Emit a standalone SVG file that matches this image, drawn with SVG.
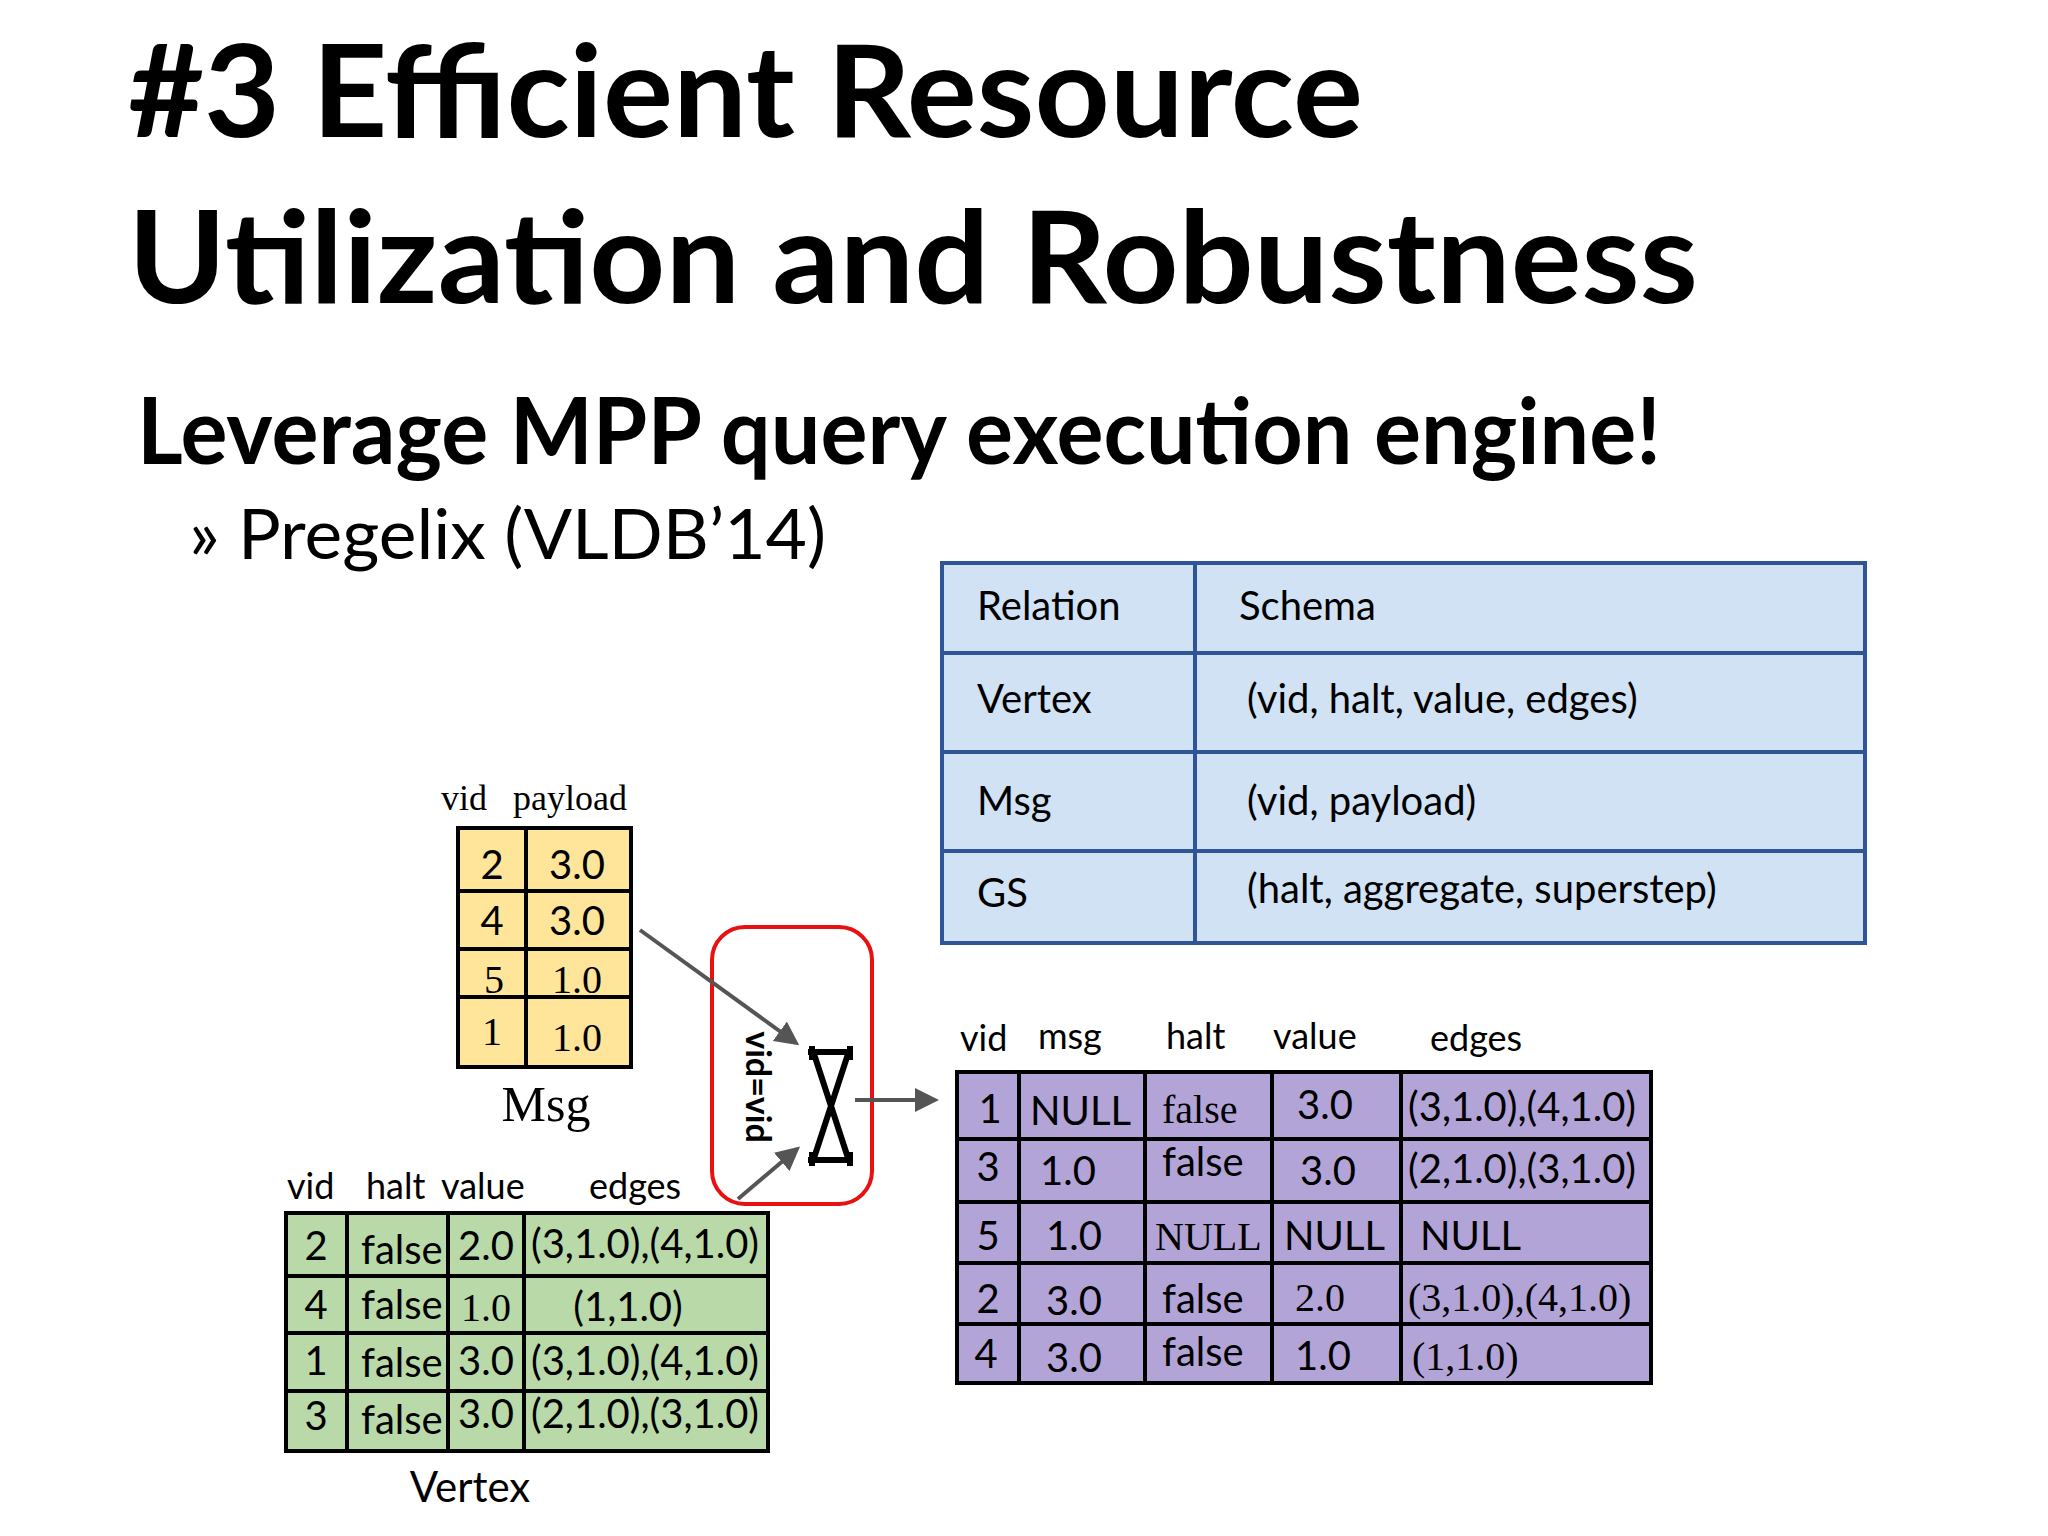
<svg xmlns="http://www.w3.org/2000/svg" width="2048" height="1536" viewBox="0 0 2048 1536">
<style>
.s{font-family:Lato,"Open Sans",sans-serif;fill:#000}
.r{font-family:"Liberation Serif",serif;fill:#000}
.t{font-size:40px}
.c{text-anchor:middle}
.g{stroke:#000;stroke-width:4}
.b{stroke:#2f5597;stroke-width:4}
.a{stroke:#555;stroke-width:4;fill:none;marker-end:url(#ah)}
</style>
<defs><marker id="ah" markerWidth="6" markerHeight="6" refX="5" refY="3" orient="auto"><path d="M0,0L6,3L0,6z" fill="#555"/></marker></defs>
<rect width="2048" height="1536" fill="#fff"/>
<g id="title">
<text class="s" x="128" y="137" font-size="128" font-weight="bold" textLength="1235" lengthAdjust="spacingAndGlyphs">#3 Efficient Resource</text>
<text class="s" x="128" y="303" font-size="128" font-weight="bold" textLength="1570" lengthAdjust="spacingAndGlyphs">Utilization and Robustness</text>
<text class="s" x="137" y="464" font-size="92" font-weight="bold" textLength="1524" lengthAdjust="spacingAndGlyphs">Leverage MPP query execution engine!</text>
<text class="s" x="189" y="559" font-size="70" textLength="637" lengthAdjust="spacingAndGlyphs">» Pregelix (VLDB’14)</text>
</g>
<g id="schema">
<rect x="942" y="563" width="923" height="380" fill="#d0e2f4" class="b"/>
<path class="b" d="M1195,563V943M942,653H1865M942,752H1865M942,851H1865"/>
<g class="s t"><text x="977" y="620">Relation</text><text x="1239" y="620">Schema</text>
<text x="977" y="713">Vertex</text><text x="1247" y="713">(vid, halt, value, edges)</text>
<text x="977" y="815">Msg</text><text x="1247" y="815">(vid, payload)</text>
<text x="977" y="907">GS</text><text x="1247" y="903">(halt, aggregate, superstep)</text></g>
</g>
<g id="msg">
<text class="r" x="441" y="810" font-size="36">vid</text><text class="r" x="513" y="810" font-size="36">payload</text>
<rect x="458" y="828" width="173" height="239" fill="#fee59a" class="g"/>
<path class="g" d="M526,828V1067M458,891H631M458,949H631M456,997H631"/>
<g class="t"><text class="s c" x="492" y="879">2</text><text class="s c" x="577" y="879">3.0</text>
<text class="s c" x="492" y="935">4</text><text class="s c" x="577" y="935">3.0</text>
<text class="r c" x="494" y="993">5</text><text class="r c" x="577" y="993">1.0</text>
<text class="r c" x="492" y="1045">1</text><text class="r c" x="577" y="1051">1.0</text></g>
<text class="r c" x="546" y="1121" font-size="50">Msg</text>
</g>
<g id="vertex">
<g class="s" font-size="36"><text x="287" y="1199">vid</text><text x="366" y="1199">halt</text><text x="441" y="1199">value</text><text x="589" y="1199">edges</text></g>
<rect x="286" y="1213" width="482" height="238" fill="#b9d9a8" class="g"/>
<path class="g" d="M347,1213V1451M448,1213V1451M524,1213V1451M286,1276H768M286,1333H768M286,1391H768"/>
<g class="s t">
<text class="c" x="316" y="1260">2</text><text x="361" y="1264">false</text><text class="c" x="486" y="1260">2.0</text><text class="c" x="645" y="1258">(3,1.0),(4,1.0)</text>
<text class="c" x="316" y="1319">4</text><text x="361" y="1319">false</text><text class="r c" x="486" y="1321">1.0</text><text class="c" x="628" y="1321">(1,1.0)</text>
<text class="c" x="316" y="1375">1</text><text x="361" y="1377">false</text><text class="c" x="486" y="1375">3.0</text><text class="c" x="645" y="1375">(3,1.0),(4,1.0)</text>
<text class="c" x="316" y="1430">3</text><text x="361" y="1434">false</text><text class="c" x="486" y="1428">3.0</text><text class="c" x="645" y="1428">(2,1.0),(3,1.0)</text></g>
<text class="s c" x="470" y="1502" font-size="42">Vertex</text>
</g>
<g id="join">
<rect x="712" y="927" width="160" height="277" rx="33" fill="none" stroke="#e81010" stroke-width="4"/>
<text class="s c" font-weight="bold" font-size="34" transform="translate(746,1087) rotate(90)">vid=vid</text>
<path d="M808,1052H853M808,1160H853M812,1046V1060M850,1046V1060M812,1152V1166M850,1152V1166M814,1054L848,1158M848,1054L814,1158" stroke="#000" stroke-width="6" fill="none"/>
</g>
<g id="result">
<g class="s" font-size="36"><text x="960" y="1051">vid</text><text x="1038" y="1049">msg</text><text x="1166" y="1049">halt</text><text x="1273" y="1049">value</text><text x="1430" y="1051">edges</text></g>
<rect x="957" y="1072" width="694" height="311" fill="#b3a4d8" class="g"/>
<path class="g" d="M1019,1072V1383M1145,1072V1383M1272,1072V1383M1401,1072V1383M957,1139H1651M957,1202H1651M957,1263H1651M957,1324H1651"/>
<g class="t">
<text class="s c" x="990" y="1123">1</text><text class="s" x="1030" y="1125">NULL</text><text class="r" x="1162" y="1123">false</text><text class="s" x="1297" y="1119">3.0</text><text class="s" x="1408" y="1121">(3,1.0),(4,1.0)</text>
<text class="s c" x="988" y="1181">3</text><text class="s" x="1040" y="1185">1.0</text><text class="s" x="1162" y="1176">false</text><text class="s" x="1300" y="1185">3.0</text><text class="s" x="1408" y="1183">(2,1.0),(3,1.0)</text>
<text class="s c" x="988" y="1250">5</text><text class="s" x="1046" y="1250">1.0</text><text class="r" x="1155" y="1250">NULL</text><text class="s" x="1284" y="1250">NULL</text><text class="s" x="1420" y="1250">NULL</text>
<text class="s c" x="988" y="1313">2</text><text class="s" x="1046" y="1315">3.0</text><text class="s" x="1162" y="1313">false</text><text class="r" x="1295" y="1311">2.0</text><text class="r" x="1408" y="1311">(3,1.0),(4,1.0)</text>
<text class="s c" x="986" y="1368">4</text><text class="s" x="1046" y="1372">3.0</text><text class="s" x="1162" y="1366">false</text><text class="s" x="1295" y="1370">1.0</text><text class="r" x="1412" y="1370">(1,1.0)</text></g>
</g>
<g id="connectors">
<path class="a" d="M640,930L796,1043"/>
<path class="a" d="M738,1199L797,1149"/>
<path class="a" d="M855,1100L935,1100"/>
</g>
</svg>
